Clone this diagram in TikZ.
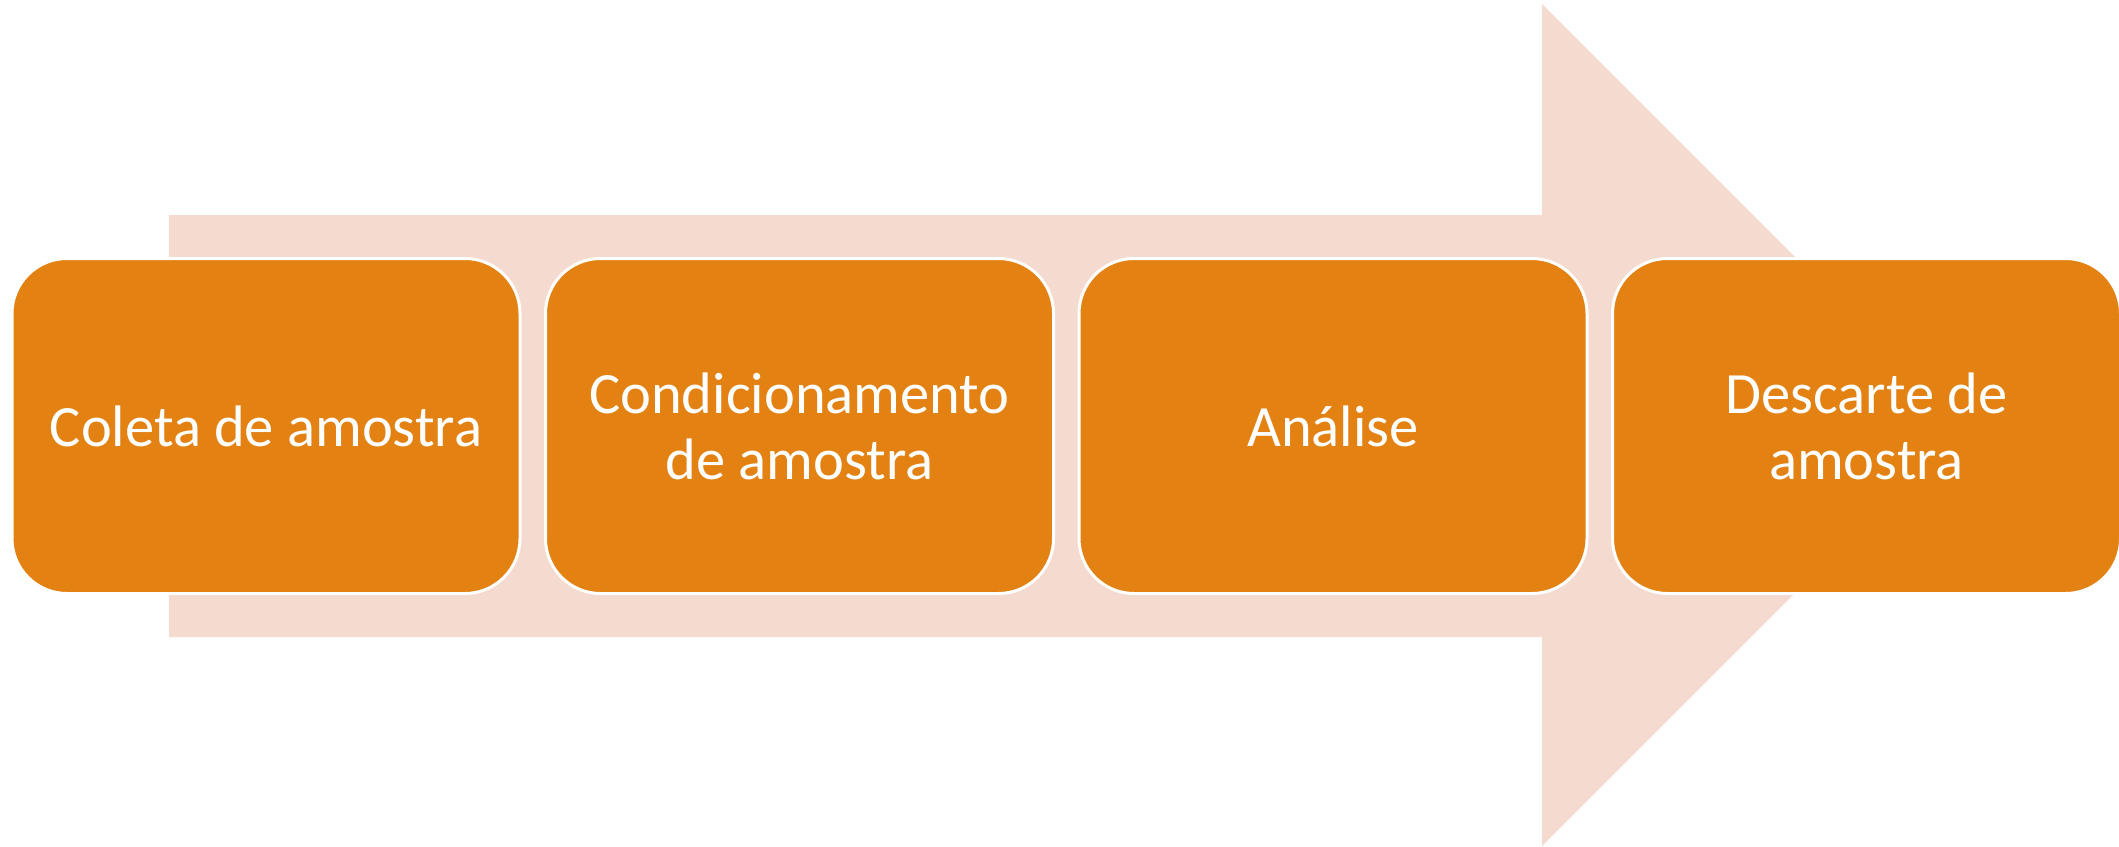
\documentclass[tikz,border=0pt]{standalone}
\usepackage{fontspec}
\setmainfont{Carlito}
\definecolor{boxorange}{RGB}{227,130,19}
\definecolor{arrowpink}{RGB}{245,218,207}
\begin{document}
\begin{tikzpicture}[x=1pt,y=-1pt,
  stepbox/.style={draw=white, line width=3pt, fill=boxorange, rounded corners=55pt,
    minimum width=508pt, minimum height=335pt, inner sep=0pt, align=center,
    text=white, font=\fontsize{58.5pt}{66pt}\selectfont}]
\useasboundingbox (0,0) rectangle (2119,846);
\fill[arrowpink] (169,215) -- (1542,215) -- (1542,4) -- (1963,425) -- (1542,846) -- (1542,637) -- (169,637) -- cycle;
\node[stepbox] (coleta) at (266,426) {Coleta de amostra};
\node[stepbox] (condic) at (799.5,426) {Condicionamento\\de amostra};
\node[stepbox] (analise) at (1333,426) {Análise};
\node[stepbox] (descarte) at (1866.5,426) {Descarte de\\amostra};
\end{tikzpicture}
\end{document}
